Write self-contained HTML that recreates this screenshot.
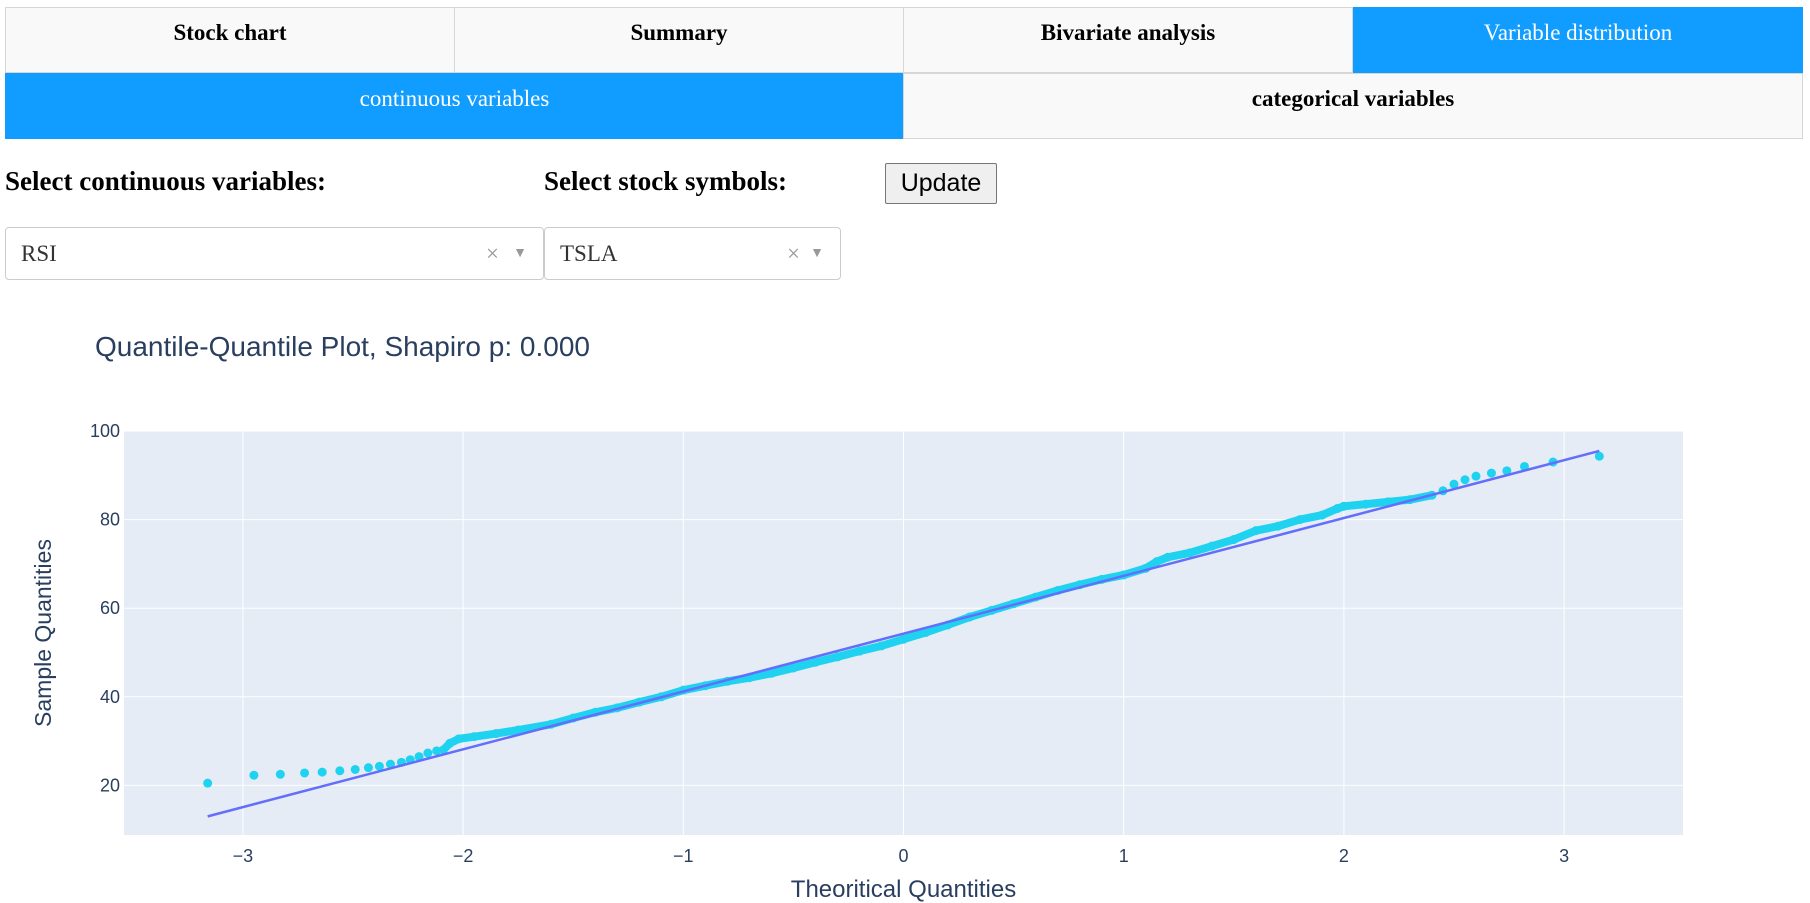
<!DOCTYPE html>
<html><head><meta charset="utf-8"><style>
body{margin:0;width:1810px;height:903px;background:#fff;font-family:"Liberation Serif",serif;position:relative;overflow:hidden}
.tab{position:absolute;box-sizing:border-box;border:1px solid #d6d6d6;background:#f9f9f9;text-align:center;font-weight:bold;font-size:23px;color:#000}
.sel{background:#119dff;color:#fff;font-weight:normal;border-color:#119dff}
.lbl{position:absolute;font-weight:bold;font-size:27px}
.dd{position:absolute;box-sizing:border-box;border:1px solid #ccc;border-radius:4px;background:#fff;font-size:23px;color:#333}
</style></head><body>
<div class="tab" style="left:5px;top:7px;width:450px;height:66px;line-height:50px">Stock chart</div>
<div class="tab" style="left:454px;top:7px;width:450px;height:66px;line-height:50px">Summary</div>
<div class="tab" style="left:903px;top:7px;width:450px;height:66px;line-height:50px">Bivariate analysis</div>
<div class="tab sel" style="left:1353px;top:7px;width:450px;height:66px;line-height:50px">Variable distribution</div>
<div class="tab sel" style="left:5px;top:73px;width:899px;height:66px;line-height:50px">continuous variables</div>
<div class="tab" style="left:903px;top:73px;width:900px;height:66px;line-height:50px">categorical variables</div>
<div class="lbl" style="left:5px;top:166px">Select continuous variables:</div>
<div class="lbl" style="left:544px;top:166px">Select stock symbols:</div>
<button style="position:absolute;left:885px;top:163px;width:112px;height:41px;font-family:'Liberation Sans',sans-serif;font-size:25px;background:#efefef;border:1px solid #767676;border-radius:2px;padding:0">Update</button>
<div class="dd" style="left:5px;top:227px;width:539px;height:53px;line-height:51px;padding-left:15px">RSI<span style="position:absolute;right:44px;color:#999">×</span><span style="position:absolute;right:16px;color:#999;font-size:14px">▼</span></div>
<div class="dd" style="left:544px;top:227px;width:297px;height:53px;line-height:51px;padding-left:15px">TSLA<span style="position:absolute;right:40px;color:#999">×</span><span style="position:absolute;right:16px;color:#999;font-size:14px">▼</span></div>
<svg id="chart" width="1810" height="903" style="position:absolute;left:0;top:0" font-family="'Liberation Sans',sans-serif"></svg>
<script>
const xTicks=[-3,-2,-1,0,1,2,3];
const yTicks=[20,40,60,80,100];
const theoQ=[-3.16,-2.95,-2.83,-2.72,-2.64,-2.56,-2.49,-2.43,-2.38,-2.33,-2.28,-2.24,-2.2,-2.16,-2.12,-2.09,-2.06,-2.02,-1.95,-1.85,-1.75,-1.6,-1.5,-1.4,-1.3,-1.2,-1.1,-1.0,-0.9,-0.8,-0.7,-0.6,-0.5,-0.4,-0.3,-0.2,-0.1,0,0.1,0.2,0.3,0.4,0.5,0.6,0.7,0.8,0.9,1.0,1.1,1.15,1.2,1.3,1.4,1.5,1.6,1.7,1.8,1.9,1.97,2.0,2.1,2.2,2.3,2.4,2.45,2.5,2.55,2.6,2.67,2.74,2.82,2.95,3.16];
const sampleQ=[20.5,22.3,22.5,22.8,23,23.3,23.6,24,24.3,24.8,25.2,25.8,26.5,27.3,27.8,28,29.5,30.5,31,31.7,32.5,33.8,35.2,36.5,37.5,38.8,40,41.5,42.5,43.5,44.3,45.3,46.5,47.8,49,50.3,51.5,53,54.5,56.2,58,59.5,61,62.5,64,65.3,66.5,67.5,69,70.5,71.5,72.5,74,75.5,77.5,78.5,80,81,82.5,83,83.5,84,84.5,85.5,86.5,88,89,89.8,90.5,91,92,93,94.3];
const fitX=[-3.16,3.16];
const fitY=[13,95.5];
const NS='http://www.w3.org/2000/svg';
const svg=document.getElementById('chart');
const L=124,R=1683,T=431,B=835,xmin=-3.54,xmax=3.54,ymin=8.8,ymax=100;
const sx=v=>L+(v-xmin)/(xmax-xmin)*(R-L);
const sy=v=>B-(v-ymin)/(ymax-ymin)*(B-T);
function mk(t,a,txt){const e=document.createElementNS(NS,t);for(const k in a)e.setAttribute(k,a[k]);if(txt!=null)e.textContent=txt;svg.appendChild(e);return e;}
const bg=mk('rect',{x:L,y:T,width:R-L,height:B-T,fill:'#e5ecf6'});


xTicks.forEach(t=>{
 const g=mk('line',{x1:sx(t),x2:sx(t),y1:T,y2:B,stroke:'#fff','stroke-width':1});
 
 
 const l=mk('text',{x:sx(t),y:B+27,'text-anchor':'middle','font-size':18,fill:'#2a3f5f'},t<0?'−'+(-t):String(t));
 
 
});
yTicks.forEach(t=>{
 const g=mk('line',{x1:L,x2:R,y1:sy(t),y2:sy(t),stroke:'#fff','stroke-width':1});
 
 
 const l=mk('text',{x:L-4,y:sy(t)+6,'text-anchor':'end','font-size':18,fill:'#2a3f5f'},String(t));
 
 
});
const band=mk('polyline',{points:theoQ.map((x,i)=>sx(x)+','+sy(sampleQ[i])).slice(15,64).join(' '),fill:'none',stroke:'#1fd3f0','stroke-width':8,'stroke-linejoin':'round','stroke-linecap':'round'});


theoQ.forEach((x,i)=>{
 const c=mk('circle',{cx:sx(x),cy:sy(sampleQ[i]),r:4.5,fill:'#1fd3f0'});
 
 
});
const fl=mk('line',{x1:sx(fitX[0]),y1:sy(fitY[0]),x2:sx(fitX[1]),y2:sy(fitY[1]),stroke:'#636efa','stroke-width':2.5});


const ti=mk('text',{x:95,y:356,'font-size':28,fill:'#2a3f5f'},'Quantile-Quantile Plot, Shapiro p: 0.000');


const xt=mk('text',{x:(L+R)/2,y:897,'text-anchor':'middle','font-size':24,fill:'#2a3f5f'},'Theoritical Quantities');


const yt=mk('text',{x:0,y:0,'text-anchor':'middle','font-size':23,fill:'#2a3f5f',transform:'translate(51,633) rotate(-90)'},'Sample Quantities');


</script>
</body></html>
